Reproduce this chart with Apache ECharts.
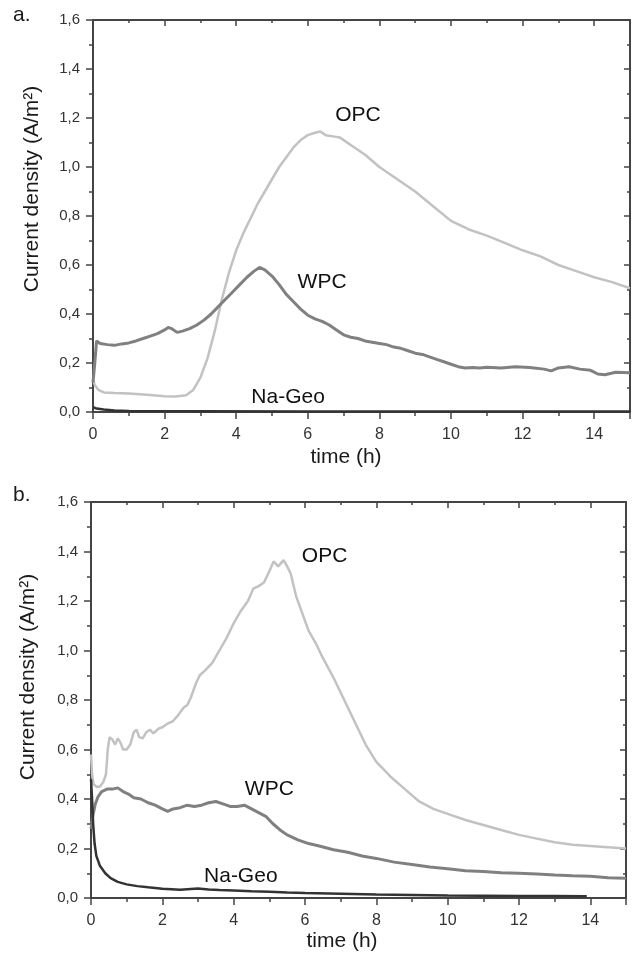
<!DOCTYPE html>
<html lang="en">
<head>
    <meta charset="UTF-8">
    <title>Current density</title>
    <script src="https://cdn.jsdelivr.net/npm/echarts@6/dist/echarts.min.js"></script>
    <style>
        html, body { margin: 0; padding: 0; background: #fff; }
        #main { width: 634px; height: 957px; }
    </style>
</head>
<body>
    <div id="main"></div>
    <script>
        // panel a: [time (h), current density (A/m2)]
        var opcA = [[0,0.13],[0.05,0.11],[0.15,0.09],[0.3,0.08],[0.6,0.078],[1.0,0.076],[1.5,0.07],[2.0,0.064],[2.3,0.063],[2.6,0.068],[2.8,0.09],[3.0,0.14],[3.2,0.22],[3.4,0.33],[3.6,0.46],[3.8,0.57],[4.0,0.66],[4.2,0.73],[4.4,0.79],[4.6,0.85],[4.8,0.9],[5.0,0.95],[5.2,1.0],[5.4,1.04],[5.6,1.08],[5.8,1.11],[6.0,1.13],[6.2,1.14],[6.35,1.145],[6.5,1.13],[6.7,1.125],[6.9,1.12],[7.2,1.09],[7.6,1.05],[8.0,1.0],[8.5,0.95],[9.0,0.9],[9.5,0.84],[10.0,0.78],[10.5,0.745],[11.0,0.72],[11.5,0.69],[12.0,0.66],[12.5,0.635],[13.0,0.6],[13.5,0.575],[14.0,0.55],[14.5,0.53],[15.0,0.505]];
        var wpcA = [[0,0.12],[0.05,0.2],[0.1,0.29],[0.2,0.28],[0.4,0.275],[0.6,0.272],[0.8,0.278],[1.0,0.282],[1.2,0.29],[1.4,0.3],[1.6,0.31],[1.8,0.32],[2.0,0.335],[2.1,0.345],[2.2,0.34],[2.35,0.325],[2.5,0.33],[2.7,0.34],[2.9,0.355],[3.1,0.375],[3.3,0.4],[3.5,0.43],[3.7,0.46],[3.9,0.49],[4.1,0.52],[4.3,0.55],[4.5,0.575],[4.65,0.59],[4.8,0.58],[5.0,0.555],[5.2,0.52],[5.4,0.48],[5.6,0.45],[5.8,0.42],[6.0,0.395],[6.2,0.38],[6.4,0.37],[6.6,0.355],[6.8,0.335],[7.0,0.315],[7.2,0.305],[7.4,0.3],[7.6,0.29],[7.8,0.285],[8.0,0.28],[8.2,0.275],[8.4,0.265],[8.6,0.26],[8.8,0.25],[9.0,0.24],[9.2,0.235],[9.4,0.225],[9.6,0.215],[9.8,0.205],[10.0,0.195],[10.2,0.185],[10.4,0.18],[10.6,0.182],[10.8,0.18],[11.0,0.183],[11.4,0.18],[11.8,0.185],[12.2,0.182],[12.6,0.175],[12.8,0.168],[13.0,0.18],[13.3,0.185],[13.6,0.175],[13.9,0.17],[14.1,0.155],[14.3,0.152],[14.6,0.162],[15.0,0.16]];
        var geoA = [[0,0.02],[0.1,0.014],[0.3,0.01],[0.6,0.006],[1.0,0.004],[3.0,0.003],[6.0,0.002],[10.0,0.002],[15.0,0.002]];

        // panel b
        var opcB = [[0,0.58],[0.03,0.5],[0.07,0.46],[0.15,0.45],[0.25,0.45],[0.35,0.47],[0.42,0.5],[0.47,0.6],[0.52,0.65],[0.6,0.64],[0.68,0.62],[0.75,0.645],[0.82,0.63],[0.9,0.6],[1.0,0.6],[1.1,0.62],[1.2,0.67],[1.28,0.68],[1.35,0.65],[1.45,0.645],[1.55,0.67],[1.65,0.68],[1.75,0.665],[1.9,0.685],[2.0,0.69],[2.15,0.705],[2.3,0.715],[2.45,0.74],[2.6,0.77],[2.7,0.78],[2.8,0.81],[2.95,0.87],[3.05,0.9],[3.2,0.92],[3.4,0.95],[3.6,1.0],[3.8,1.05],[4.0,1.11],[4.2,1.16],[4.4,1.2],[4.55,1.25],[4.7,1.26],[4.85,1.275],[5.0,1.32],[5.12,1.36],[5.25,1.34],[5.4,1.365],[5.5,1.34],[5.6,1.31],[5.75,1.22],[5.9,1.16],[6.1,1.08],[6.3,1.03],[6.5,0.97],[6.8,0.89],[7.1,0.8],[7.4,0.71],[7.7,0.62],[8.0,0.55],[8.4,0.49],[8.8,0.44],[9.2,0.39],[9.6,0.36],[10.0,0.34],[10.5,0.315],[11.0,0.295],[11.5,0.275],[12.0,0.255],[12.5,0.24],[13.0,0.225],[13.5,0.215],[14.0,0.21],[14.5,0.205],[15.0,0.2]];
        var wpcB = [[0,0.28],[0.05,0.33],[0.12,0.38],[0.2,0.41],[0.3,0.43],[0.45,0.44],[0.6,0.44],[0.75,0.445],[0.9,0.43],[1.05,0.42],[1.2,0.405],[1.4,0.4],[1.6,0.385],[1.8,0.375],[2.0,0.36],[2.15,0.35],[2.3,0.36],[2.5,0.365],[2.7,0.375],[2.9,0.37],[3.1,0.375],[3.3,0.385],[3.5,0.39],[3.7,0.38],[3.9,0.37],[4.1,0.37],[4.3,0.375],[4.5,0.36],[4.7,0.345],[4.9,0.33],[5.1,0.3],[5.3,0.275],[5.5,0.255],[5.8,0.235],[6.1,0.22],[6.4,0.21],[6.8,0.195],[7.2,0.185],[7.6,0.17],[8.0,0.16],[8.5,0.145],[9.0,0.135],[9.5,0.125],[10.0,0.118],[10.5,0.11],[11.0,0.107],[11.5,0.102],[12.0,0.1],[12.5,0.097],[13.0,0.093],[13.5,0.09],[14.0,0.088],[14.5,0.082],[15.0,0.08]];
        var geoB = [[0,0.48],[0.03,0.4],[0.06,0.3],[0.1,0.22],[0.15,0.17],[0.25,0.13],[0.4,0.1],[0.55,0.08],[0.75,0.065],[1.0,0.055],[1.3,0.048],[1.6,0.043],[2.0,0.037],[2.5,0.033],[3.0,0.038],[3.3,0.034],[3.6,0.032],[4.0,0.03],[4.5,0.027],[5.0,0.025],[5.5,0.022],[6.0,0.02],[7.0,0.017],[8.0,0.014],[9.0,0.012],[10.0,0.01],[11.0,0.009],[12.0,0.008],[13.0,0.008],[13.9,0.007]];

        // curve labels, placed in data coordinates
        var labelsA = [['OPC', 7.4, 1.21], ['WPC', 6.4, 0.53], ['Na-Geo', 5.45, 0.06]];
        var labelsB = [['OPC', 6.55, 1.38], ['WPC', 5.0, 0.44], ['Na-Geo', 4.2, 0.09]];

        var xTicks = [0, 2, 4, 6, 8, 10, 12, 14];

        var font = 'Liberation Sans, Arial, sans-serif';
        var axisColor = '#444';

        function xAxes(gi) {
            return [{
                type: 'value', gridIndex: gi, position: 'bottom',
                min: 0, max: 15, interval: 2,
                axisLine: { onZero: false, lineStyle: { color: axisColor, width: 2 } },
                axisTick: { inside: false, length: 7, lineStyle: { color: axisColor, width: 1.5 } },
                minorTick: { show: true, splitNumber: 2, length: 4, lineStyle: { color: axisColor, width: 1.5 } },
                axisLabel: {
                    color: '#333', fontSize: 16, fontFamily: font, margin: 15,
                    formatter: function (v) { return xTicks.indexOf(v) >= 0 ? String(v) : ''; }
                },
                splitLine: { show: false }
            }, {
                type: 'value', gridIndex: gi, position: 'top',
                min: 0, max: 15, interval: 2,
                axisLine: { onZero: false, lineStyle: { color: axisColor, width: 2 } },
                axisTick: { inside: true, length: 6, lineStyle: { color: axisColor, width: 1.5 } },
                minorTick: { show: true, splitNumber: 2, length: 3, lineStyle: { color: axisColor, width: 1.5 } },
                axisLabel: { show: false },
                splitLine: { show: false }
            }];
        }

        function yAxes(gi) {
            return [{
                type: 'value', gridIndex: gi, position: 'left',
                min: 0, max: 1.6, interval: 0.2,
                axisLine: { onZero: false, lineStyle: { color: axisColor, width: 2 } },
                axisTick: { inside: false, length: 7, lineStyle: { color: axisColor, width: 1.5 } },
                minorTick: { show: true, splitNumber: 2, length: 4, lineStyle: { color: axisColor, width: 1.5 } },
                axisLabel: {
                    color: '#333', fontSize: 15, fontFamily: font, margin: 13,
                    formatter: function (v) { return v.toFixed(1).replace('.', ','); }
                },
                splitLine: { show: false }
            }, {
                type: 'value', gridIndex: gi, position: 'right',
                min: 0, max: 1.6, interval: 0.2,
                axisLine: { onZero: false, lineStyle: { color: axisColor, width: 2 } },
                axisTick: { inside: true, length: 6, lineStyle: { color: axisColor, width: 1.5 } },
                minorTick: { show: true, splitNumber: 2, length: 3, lineStyle: { color: axisColor, width: 1.5 } },
                axisLabel: { show: false },
                splitLine: { show: false }
            }];
        }

        function line(data, xi, yi, color, width) {
            return {
                type: 'line', data: data, xAxisIndex: xi, yAxisIndex: yi,
                showSymbol: false, symbol: 'none', silent: true, z: 3,
                lineStyle: { color: color, width: width }
            };
        }

        function labelSeries(labels, xi, yi) {
            return {
                type: 'scatter', xAxisIndex: xi, yAxisIndex: yi, symbolSize: 0, silent: true, z: 5,
                itemStyle: { opacity: 1 },
                data: labels.map(function (l) { return { name: l[0], value: [l[1], l[2]] }; }),
                label: {
                    show: true, position: 'inside', formatter: '{b}', opacity: 1,
                    color: '#111', fontSize: 21, fontFamily: font, textBorderWidth: 0
                }
            };
        }

        var chart = echarts.init(document.getElementById('main'));
        var option = {
            backgroundColor: '#fff',
            animation: false,
            grid: [
                { left: 93, top: 20, width: 537, height: 392 },
                { left: 91, top: 502, width: 535, height: 396 }
            ],
            xAxis: xAxes(0).concat(xAxes(1)),
            yAxis: yAxes(0).concat(yAxes(1)),
            series: [
                line(opcA, 0, 0, '#c2c2c2', 2.5),
                line(wpcA, 0, 0, '#808080', 3),
                line(geoA, 0, 0, '#333', 2.5),
                labelSeries(labelsA, 0, 0),
                line(opcB, 2, 2, '#c2c2c2', 2.5),
                line(wpcB, 2, 2, '#808080', 3),
                line(geoB, 2, 2, '#333', 2.5),
                labelSeries(labelsB, 2, 2)
            ],
            graphic: [
                { type: 'text', left: 13, top: 5, style: { text: 'a.', fontSize: 21, fontFamily: font, fill: '#1a1a1a' } },
                { type: 'text', left: 13, top: 485, style: { text: 'b.', fontSize: 21, fontFamily: font, fill: '#1a1a1a' } },
                { type: 'text', x: 32, y: 189, rotation: Math.PI / 2,
                  style: { text: 'Current density (A/m²)', fontSize: 21, fontFamily: font, fill: '#1a1a1a', align: 'center', verticalAlign: 'middle' } },
                { type: 'text', x: 28, y: 677, rotation: Math.PI / 2,
                  style: { text: 'Current density (A/m²)', fontSize: 21, fontFamily: font, fill: '#1a1a1a', align: 'center', verticalAlign: 'middle' } },
                { type: 'text', x: 346, y: 457,
                  style: { text: 'time (h)', fontSize: 21, fontFamily: font, fill: '#1a1a1a', align: 'center', verticalAlign: 'middle' } },
                { type: 'text', x: 342, y: 941,
                  style: { text: 'time (h)', fontSize: 21, fontFamily: font, fill: '#1a1a1a', align: 'center', verticalAlign: 'middle' } }
            ]
        };
        chart.setOption(option);
    </script>
</body>
</html>
